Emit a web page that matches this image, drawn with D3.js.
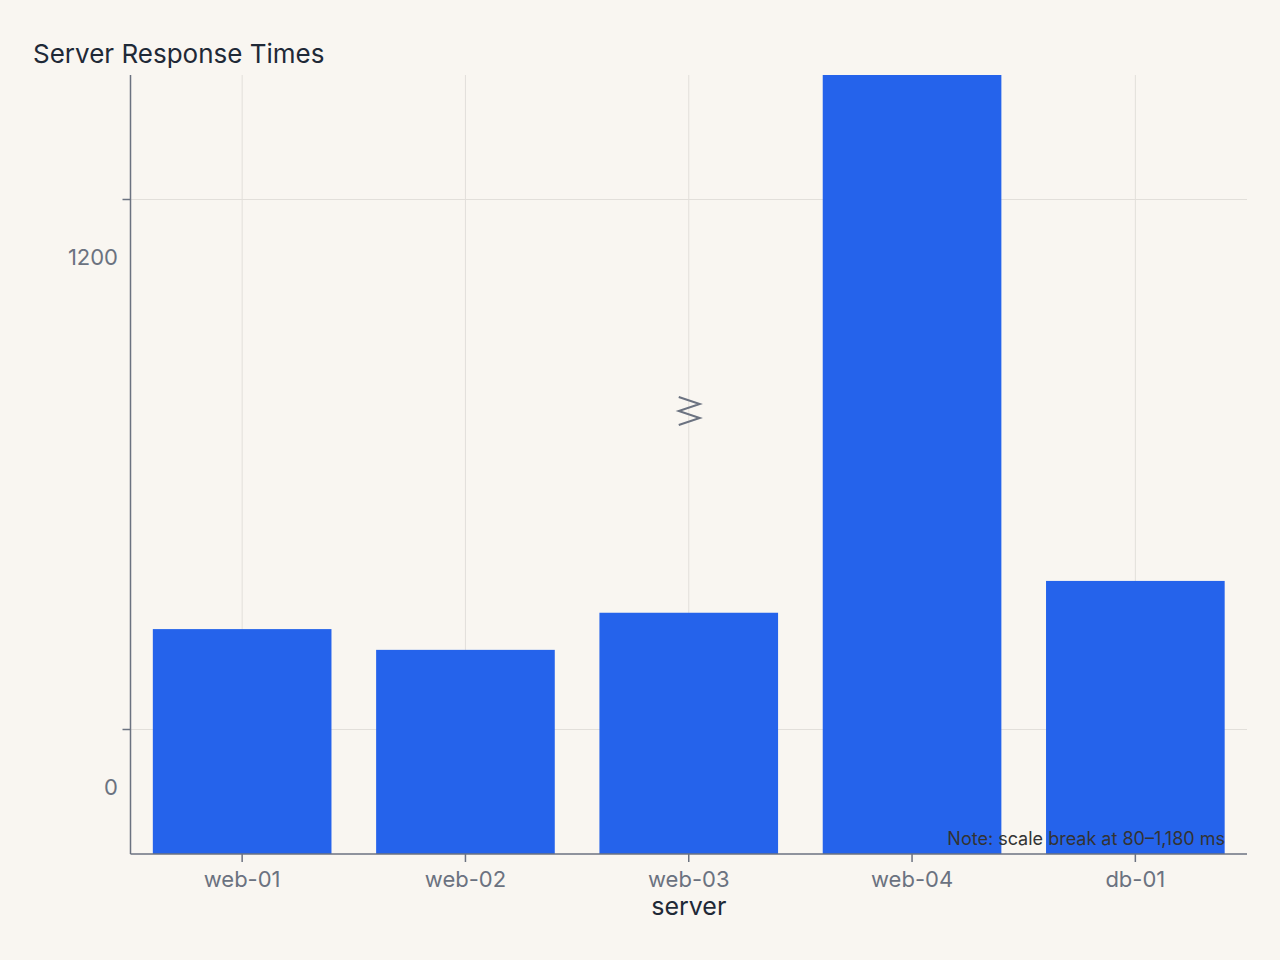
<!DOCTYPE html>
<html>
<head>
<meta charset="utf-8">
<script src="https://cdn.jsdelivr.net/npm/d3@7"></script>
<style>
  html, body { margin: 0; padding: 0; background: #f9f6f1; }
  svg { display: block; font-family: Inter, "Noto Sans", sans-serif; }
</style>
</head>
<body>
<svg id="chart" width="1280" height="960"></svg>
<script>
const categories = ["web-01", "web-02", "web-03", "web-04", "db-01"];
const values = [226, 179, 263, 1500, 335];
const yTicks = [0, 1200];
const title = "Server Response Times";
const xTitle = "server";
const note = "Note: scale break at 80\u20131,180 ms";

const svg = d3.select("#chart");
const W = 1280, H = 960;
const m = { left: 130.5, right: 33, top: 75, bottom: 106 };
const plotBottom = H - m.bottom; // 854
const x = d3.scaleBand().domain(categories).range([m.left, W - m.right]).paddingInner(0.2).paddingOuter(0.1);
const y = d3.scaleLinear().domain([-283, 1480]).range([plotBottom, m.top]);

svg.append("rect").attr("width", W).attr("height", H).attr("fill", "#f9f6f1");

svg.append("defs").append("clipPath").attr("id", "plotclip")
  .append("rect").attr("x", m.left).attr("y", m.top)
  .attr("width", W - m.right - m.left).attr("height", plotBottom - m.top);

// vertical grid
svg.append("g").selectAll("line").data(categories).join("line")
  .attr("x1", d => x(d) + x.bandwidth() / 2).attr("x2", d => x(d) + x.bandwidth() / 2)
  .attr("y1", m.top).attr("y2", plotBottom)
  .attr("stroke", "#e2dfda").attr("stroke-width", 1);
// horizontal grid
svg.append("g").selectAll("line").data(yTicks).join("line")
  .attr("x1", m.left).attr("x2", W - m.right)
  .attr("y1", d => Math.round(y(d)) + 0.5).attr("y2", d => Math.round(y(d)) + 0.5)
  .attr("stroke", "#e2dfda").attr("stroke-width", 1);

// bars
svg.append("g").attr("clip-path", "url(#plotclip)").selectAll("rect").data(values).join("rect")
  .attr("x", (d, i) => x(categories[i]))
  .attr("width", x.bandwidth())
  .attr("y", d => y(d))
  .attr("height", d => y(y.domain()[0]) - y(d))
  .attr("fill", "#2563eb");

// y axis
const yAxis = svg.append("g");
yAxis.append("line").attr("x1", m.left).attr("x2", m.left).attr("y1", m.top).attr("y2", plotBottom)
  .attr("stroke", "#6b7280").attr("stroke-width", 1.5);
yAxis.selectAll(".tk").data(yTicks).join("line")
  .attr("x1", m.left - 8).attr("x2", m.left)
  .attr("y1", d => Math.round(y(d)) + 0.5).attr("y2", d => Math.round(y(d)) + 0.5)
  .attr("stroke", "#6b7280").attr("stroke-width", 1.5);
yAxis.selectAll("text").data(yTicks).join("text")
  .attr("x", 118).attr("y", d => y(d) + 58)
  .attr("text-anchor", "end").attr("dominant-baseline", "central")
  .attr("fill", "#6b7280").attr("font-size", 22).text(d => d);

// x axis
const xAxis = svg.append("g");
xAxis.append("line").attr("x1", m.left).attr("x2", W - m.right).attr("y1", plotBottom).attr("y2", plotBottom)
  .attr("stroke", "#6b7280").attr("stroke-width", 1.5);
xAxis.selectAll(".tk").data(categories).join("line")
  .attr("x1", d => x(d) + x.bandwidth() / 2).attr("x2", d => x(d) + x.bandwidth() / 2)
  .attr("y1", plotBottom).attr("y2", plotBottom + 8)
  .attr("stroke", "#6b7280").attr("stroke-width", 1.5);
xAxis.selectAll("text").data(categories).join("text")
  .attr("x", d => x(d) + x.bandwidth() / 2).attr("y", plotBottom + 25)
  .attr("text-anchor", "middle").attr("dominant-baseline", "central")
  .attr("fill", "#6b7280").attr("font-size", 22).text(d => d);

// x title
svg.append("text").attr("x", x("web-03") + x.bandwidth() / 2).attr("y", 906)
  .attr("text-anchor", "middle").attr("dominant-baseline", "central")
  .attr("fill", "#1f2937").attr("font-size", 25).text(xTitle);

// title
svg.append("text").attr("x", 33).attr("y", 63)
  .attr("fill", "#1f2937").attr("font-size", 26).text(title);

// break symbol
const cx = x("web-03") + x.bandwidth() / 2;
const zig = d3.line()([[cx - 10, 397], [cx + 11, 404], [cx - 10, 411], [cx + 11, 418], [cx - 10, 425]]);
svg.append("path").attr("d", zig).attr("fill", "none")
  .attr("stroke", "#6b7280").attr("stroke-width", 2);

// note
svg.append("text").attr("x", 1225).attr("y", 838)
  .attr("text-anchor", "end").attr("dominant-baseline", "central")
  .attr("fill", "#333333").attr("font-size", 18).text(note);
</script>
</body>
</html>
